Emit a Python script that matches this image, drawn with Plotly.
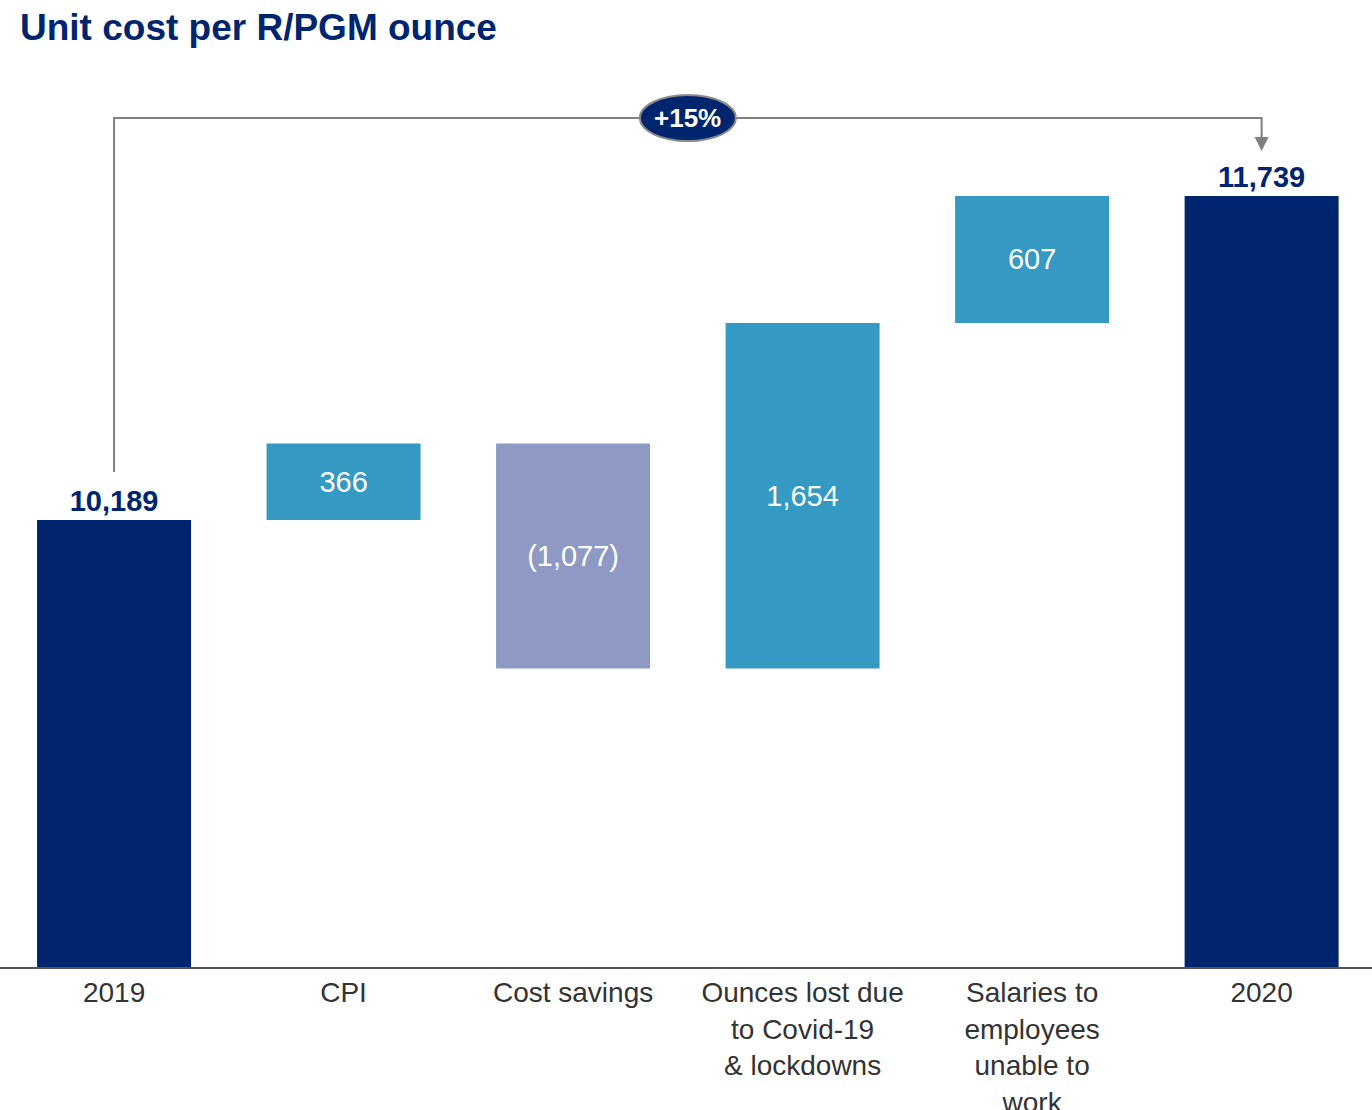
import plotly.graph_objects as go

categories = ["2019", "CPI", "Cost savings", "Ounces lost due<br>to Covid-19<br>& lockdowns",
              "Salaries to<br>employees<br>unable to<br>work", "2020"]
values = [10189, 366, -1077, 1654, 607, 11739]
kinds = ["total", "delta", "delta", "delta", "delta", "total"]
labels = ["10,189", "366", "(1,077)", "1,654", "607", "11,739"]
change_label = "+15%"

NAVY = "#00256F"
TEAL = "#3499C3"
LAV = "#8E9AC3"
GRAY = "#808080"
FONT = "Liberation Sans, Arial, sans-serif"

bases, ys, colors, texts, tpos, tcol = [], [], [], [], [], []
running = 0
for v, k, lab in zip(values, kinds, labels):
    if k == "total":
        bases.append(0)
        ys.append(v)
        running = v
        colors.append(NAVY)
        texts.append("<b>" + lab + "</b>")
        tpos.append("outside")
        tcol.append(NAVY)
    else:
        bases.append(running)
        ys.append(v)
        running += v
        colors.append(TEAL if v >= 0 else LAV)
        texts.append(lab)
        tpos.append("inside")
        tcol.append("white")

fig = go.Figure(go.Bar(
    x=list(range(len(categories))), y=ys, base=bases,
    marker=dict(color=colors, line=dict(width=0)),
    text=texts, textposition=tpos, insidetextanchor="middle",
    textfont=dict(size=29, color=tcol, family=FONT),
    constraintext="none", cliponaxis=False, width=0.671, hoverinfo="skip",
))

ymin, ymax = 8050.6, 12389.6
bracket_y = 12112
start_val = values[0]
end_val = values[-1]
mid_x = (len(categories) - 1) / 2

# bracket
fig.add_shape(type="path", xref="x", yref="y",
              path=f"M 0 {start_val + 230} L 0 {bracket_y} L 5 {bracket_y} L 5 {end_val + 290}",
              line=dict(color=GRAY, width=2))
fig.add_annotation(x=5, y=end_val + 215, ax=5, ay=end_val + 300, xref="x", yref="y",
                   axref="x", ayref="y", text="", showarrow=True, arrowhead=2,
                   arrowsize=1.4, arrowwidth=2, arrowcolor=GRAY)
fig.add_shape(type="circle", xref="x", yref="y", xsizemode="pixel", ysizemode="pixel",
              xanchor=mid_x, yanchor=bracket_y, x0=-48, x1=48, y0=-23, y1=23,
              fillcolor=NAVY, line=dict(color="#8A8A8A", width=2))
fig.add_annotation(x=mid_x, y=bracket_y, xref="x", yref="y", text="<b>" + change_label + "</b>",
                   showarrow=False, font=dict(size=26, color="white", family=FONT))

fig.update_layout(
    width=1372, height=1110,
    margin=dict(l=0, r=0, t=60, b=143),
    paper_bgcolor="white", plot_bgcolor="white",
    showlegend=False,
    title=dict(text="<b>Unit cost per R/PGM ounce</b>", x=20 / 1372, xanchor="left",
               xref="paper", y=1 - 27 / 1110, yref="container", yanchor="middle",
               font=dict(size=37, color=NAVY, family=FONT)),
    xaxis=dict(tickmode="array", tickvals=list(range(len(categories))), ticktext=categories,
               range=[-0.497, 5.481], showline=True, linecolor="#555555", linewidth=1.5,
               showgrid=False, zeroline=False, ticks="", automargin=False,
               tickfont=dict(size=28, color="#333333", family=FONT)),
    yaxis=dict(range=[ymin, ymax], visible=False),
)

fig.write_html("out.html", config={"displayModeBar": False},
               post_script="document.body.style.margin='0';document.body.style.overflow='hidden';")
